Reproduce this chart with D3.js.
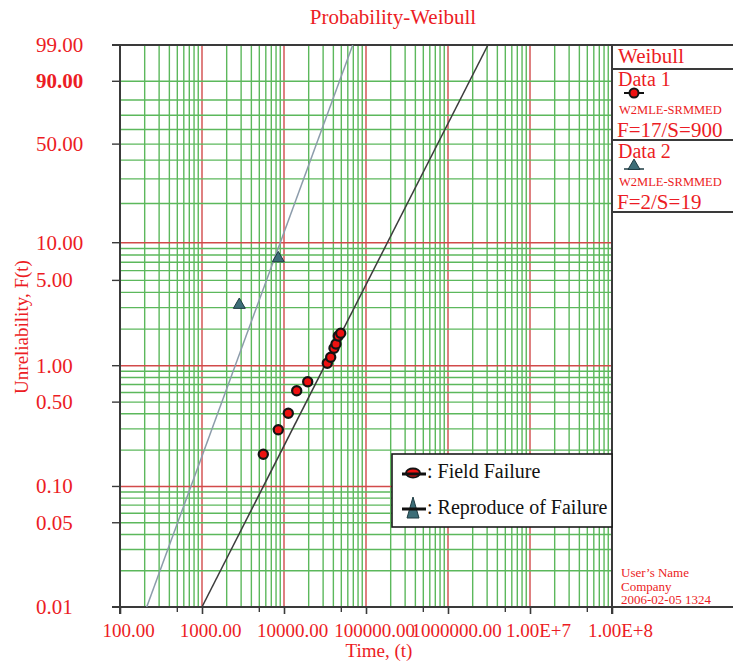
<!DOCTYPE html>
<html><head><meta charset="utf-8">
<script src="https://cdn.jsdelivr.net/npm/d3@7"></script>
<style>body{margin:0;background:#fff}svg{display:block}svg text{font-family:"Liberation Serif","Times New Roman",serif !important}</style>
</head><body>
<svg id="c" width="733" height="665" font-family="Liberation Serif"></svg>
<script>
// ---------- data ----------
const xTickValues = [100, 1000, 10000, 100000, 1000000, 10000000, 100000000];
const xTickLabels = ["100.00", "1000.00", "10000.00", "100000.00", "1000000.00", "1.00E+7", "1.00E+8"];
const yTickValues = [99, 90, 50, 10, 5, 1, 0.5, 0.1, 0.05, 0.01];
const yTickLabels = ["99.00", "90.00", "50.00", "10.00", "5.00", "1.00", "0.50", "0.10", "0.05", "0.01"];
const yGridValues = [0.02,0.03,0.04,0.05,0.06,0.07,0.08,0.09,0.1,0.2,0.3,0.4,0.5,0.6,0.7,0.8,0.9,1,2,3,4,5,6,7,8,9,10,20,30,40,50,60,70,80,90];
const yGridMajor = [0.1, 1, 10];
const data1Time = [5592, 8522, 11280, 14286, 19455, 33730, 37110, 40720, 43060, 45940, 49140];
const data1Unrel = [0.185, 0.295, 0.404, 0.621, 0.737, 1.047, 1.173, 1.392, 1.509, 1.757, 1.850];
const data2Time = [2851, 8522];
const data2Unrel = [3.16, 7.52];
const fitBeta = [1.337, 1.856];
const fitEta = [980000, 30260];
const panelNames = ["Data 1", "Data 2"];
const panelMethod = ["W2MLE-SRMMED", "W2MLE-SRMMED"];
const panelCounts = ["F=17/S=900", "F=2/S=19"];
const legendLabels = [": Field Failure", ": Reproduce of Failure"];
const footerLines = ["User\u2019s Name", "Company", "2006-02-05 1324"];

// ---------- layout ----------
const RED = "#ec1c24", GREEN = "#5cb85c", GRIDRED = "#d24a4a", AX = "#3a3a3a";
const SERIF = "Liberation Serif";
const L = 120, R = 612, T = 45, B = 607;
const svg = d3.select("#c");

const x = d3.scaleLog().domain([100, 1e8]).range([L, R]);
const W = p => Math.log(-Math.log(1 - p / 100));
const yLin = d3.scaleLinear().domain([W(0.01), W(99)]).range([B, T]);
const y = p => yLin(W(p));

// vertical grid
const xGrid = [];
for (let d = 100; d < 1e8; d *= 10) for (let m = 1; m <= 9; m++) { const v = d * m; if (v > 100) xGrid.push({v, major: m === 1}); }
svg.append("g").selectAll("line").data(xGrid).join("line")
  .attr("x1", d => x(d.v)).attr("x2", d => x(d.v)).attr("y1", T).attr("y2", B)
  .attr("stroke", d => d.major ? GRIDRED : GREEN).attr("stroke-width", 1.4);
// horizontal grid
svg.append("g").selectAll("line").data(yGridValues).join("line")
  .attr("x1", L).attr("x2", R).attr("y1", d => y(d)).attr("y2", d => y(d))
  .attr("stroke", d => yGridMajor.includes(d) ? GRIDRED : GREEN).attr("stroke-width", 1.4);

// axes lines
svg.append("line").attr("x1", 112).attr("x2", 733).attr("y1", T).attr("y2", T).attr("stroke", AX).attr("stroke-width", 2);
svg.append("line").attr("x1", 112).attr("x2", 733).attr("y1", B).attr("y2", B).attr("stroke", AX).attr("stroke-width", 2);
svg.append("line").attr("x1", L).attr("x2", L).attr("y1", T).attr("y2", B + 7).attr("stroke", AX).attr("stroke-width", 2);
svg.append("line").attr("x1", R).attr("x2", R).attr("y1", T).attr("y2", B + 7).attr("stroke", AX).attr("stroke-width", 2);

// x axis ticks & labels
const xAxis = d3.axisBottom(x).tickValues(xTickValues).tickSize(7).tickFormat((d, i) => xTickLabels[i]);
const gx = svg.append("g").attr("transform", `translate(0,${B})`).call(xAxis).attr("font-family", SERIF);
gx.select(".domain").remove();
gx.selectAll(".tick line").attr("stroke", AX).attr("stroke-width", 1.6);
gx.selectAll(".tick text").attr("fill", RED).attr("font-size", 19).attr("font-family", SERIF)
  .attr("y", 30).attr("dy", 0).attr("dx", 8);
const half = [];
for (let d = 100; d < 1e8; d *= 10) half.push(d * 5);
svg.append("g").selectAll("line").data(half).join("line")
  .attr("x1", d => x(d)).attr("x2", d => x(d)).attr("y1", B).attr("y2", B + 5)
  .attr("stroke", AX).attr("stroke-width", 1.4);

// y ticks & labels
svg.append("g").selectAll("line").data(yTickValues).join("line")
  .attr("x1", 112).attr("x2", L).attr("y1", d => y(d)).attr("y2", d => y(d))
  .attr("stroke", AX).attr("stroke-width", 1.4);
svg.append("g").selectAll("text").data(yTickValues).join("text")
  .attr("x", 36).attr("y", d => y(d)).attr("dy", "0.33em")
  .attr("fill", RED).attr("font-size", 21).attr("font-family", SERIF)
  .attr("font-weight", (d, i) => yTickLabels[i] === "90.00" ? "bold" : "normal")
  .text((d, i) => yTickLabels[i]);

// titles
svg.append("text").attr("x", 393).attr("y", 24).attr("text-anchor", "middle").attr("fill", RED).attr("font-size", 21).attr("font-family", SERIF).text("Probability-Weibull");
svg.append("text").attr("x", 379).attr("y", 657).attr("text-anchor", "middle").attr("fill", RED).attr("font-size", 19).attr("font-family", SERIF).text("Time, (t)");
svg.append("text").attr("transform", "translate(28,327) rotate(-90)").attr("text-anchor", "middle").attr("fill", RED).attr("font-size", 19).attr("font-family", SERIF).text("Unreliability, F(t)");

// fit lines
svg.append("defs").append("clipPath").attr("id", "clip").append("rect").attr("x", L).attr("y", T).attr("width", R - L).attr("height", B - T);
const fitColors = ["#3c3c3c", "#8c9cab"];
const line = d3.line().x(d => x(d[0])).y(d => y(d[1]));
fitBeta.forEach((b, i) => {
  const pts = [0.01, 99].map(p => [fitEta[i] * Math.pow(-Math.log(1 - p / 100), 1 / b), p]);
  svg.append("path").attr("clip-path", "url(#clip)").attr("d", line(pts))
    .attr("fill", "none").attr("stroke", fitColors[i]).attr("stroke-width", 1.5);
});

// points
const tri = d3.symbol().type(d3.symbolTriangle).size(62);
svg.append("g").selectAll("path").data(data2Time).join("path")
  .attr("transform", (d, i) => `translate(${x(d)},${y(data2Unrel[i])})`)
  .attr("d", tri).attr("fill", "#3d6e78").attr("stroke", "#1e3b42").attr("stroke-width", 1);
svg.append("g").selectAll("circle").data(data1Time).join("circle")
  .attr("cx", d => x(d)).attr("cy", (d, i) => y(data1Unrel[i])).attr("r", 4.6)
  .attr("fill", "#ee1111").attr("stroke", "#141414").attr("stroke-width", 2.2);

// right panel
[69, 140, 212].forEach(yy => svg.append("line").attr("x1", R).attr("x2", 733).attr("y1", yy).attr("y2", yy).attr("stroke", AX).attr("stroke-width", 2));
svg.append("text").attr("x", 618).attr("y", 63).attr("fill", RED).attr("font-size", 21).attr("font-family", SERIF).text("Weibull");
const pY = [0, 72];
panelNames.forEach((n, i) => {
  const o = pY[i];
  svg.append("text").attr("x", 618).attr("y", 86 + o).attr("fill", RED).attr("font-size", 20).attr("font-family", SERIF).text(n);
  svg.append("text").attr("x", 619).attr("y", 114 + o).attr("fill", RED).attr("font-size", 12.5).attr("font-family", SERIF).text(panelMethod[i]);
  svg.append("text").attr("x", 617).attr("y", 137 + o).attr("fill", RED).attr("font-size", 21).attr("font-family", SERIF).text(panelCounts[i]);
});
svg.append("line").attr("x1", 624).attr("x2", 644).attr("y1", 93).attr("y2", 93).attr("stroke", "#111").attr("stroke-width", 2);
svg.append("circle").attr("cx", 634).attr("cy", 93).attr("r", 4.5).attr("fill", "#ee1111").attr("stroke", "#141414").attr("stroke-width", 2);
svg.append("line").attr("x1", 624).attr("x2", 644).attr("y1", 169).attr("y2", 169).attr("stroke", "#1e3b42").attr("stroke-width", 1.5);
svg.append("path").attr("transform", "translate(634,166)").attr("d", tri).attr("fill", "#3d6e78").attr("stroke", "#1e3b42").attr("stroke-width", 1);

// legend
svg.append("rect").attr("x", 392).attr("y", 454).attr("width", 220).attr("height", 73).attr("fill", "#fff").attr("stroke", "#1a1a1a").attr("stroke-width", 1.6);
svg.append("ellipse").attr("cx", 413).attr("cy", 473).attr("rx", 7).attr("ry", 4.5).attr("fill", "#ee1111").attr("stroke", "#141414").attr("stroke-width", 1.8);
svg.append("line").attr("x1", 402).attr("x2", 426).attr("y1", 474).attr("y2", 474).attr("stroke", "#111").attr("stroke-width", 3);
svg.append("path").attr("d", "M413,497 L419,518 L407,518 Z").attr("fill", "#3d6e78").attr("stroke", "#1e3b42").attr("stroke-width", 1);
svg.append("line").attr("x1", 402).attr("x2", 426).attr("y1", 509).attr("y2", 509).attr("stroke", "#111").attr("stroke-width", 3);
legendLabels.forEach((t, i) => svg.append("text").attr("x", 427).attr("y", 478 + i * 36).attr("fill", "#111").attr("font-size", 20).attr("font-family", SERIF).text(t));

// footer
footerLines.forEach((t, i) => svg.append("text").attr("x", 621).attr("y", 577 + i * 13.5).attr("fill", RED).attr("font-size", 13).attr("font-family", SERIF).text(t));
</script>
</body></html>
